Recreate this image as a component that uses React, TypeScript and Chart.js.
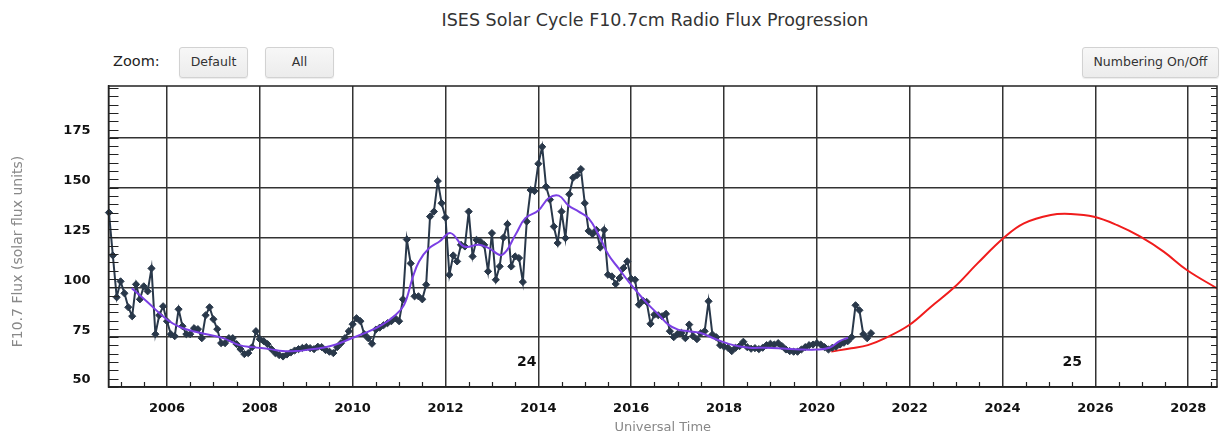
import React, { useEffect, useRef } from 'react';
import { Chart, registerables } from 'chart.js';

Chart.register(...registerables);

// ---- data ----
const OBS_START_YEAR = 2004.75; // first monthly observation (Oct 2004)
const observedFlux = [
  137.5, 116, 95, 103, 97, 90, 85.5, 101.5, 94, 100.5, 98, 109.5, 76.5, 86, 90.5, 83, 76.5, 75.5, 89, 80.5,
  76.5, 76.5, 79.5, 79, 74.5, 86, 90, 84, 79, 72, 72, 74.5, 74.5, 71.5, 69, 66.5, 67,
  70, 78, 74, 73, 71.5, 69, 67, 66, 65.3, 66.3, 67.3, 68.3, 69, 69.6, 70, 69.5, 69, 70.2, 70, 68.5,
  67.7, 67, 70, 72, 74.5, 78, 81.5, 84.5, 83, 76.5, 74.5, 71.7, 78.8, 79.8, 81, 82, 83, 84.5, 83, 94,
  124, 112, 95.5, 95.5, 94, 101.3, 135.5, 138, 153.3, 142.2, 135, 106.3, 116, 113, 121.3, 120.5, 138,
  115.5, 123.8, 123, 121.3, 108, 127.2, 103.8, 110.5, 125, 131.7, 110.5, 115.5, 114.7, 102.7, 133, 148.8,
  148.3, 162, 170.5,
  150.5, 144, 130.5, 122.2, 138, 124.7, 146.7, 155, 156.3, 159.3, 142.2, 128.3, 126.7, 128.8, 120, 128.8,
  106.3, 105.5, 101.7, 104.7, 109.7, 113, 104.3, 103.8, 91.3, 93.3, 92.7, 81.7, 86.3, 86, 85.5, 86.7, 78,
  75, 76.7, 77.2, 74.5, 81.3,
  75.5, 74, 77, 78, 93, 76.3, 75, 71, 70.2, 69.7, 68, 69.7, 70.5, 72.7, 70, 69.2, 69.5, 69, 69.7, 71, 71.7,
  71.3, 72, 70.5, 68.8, 68, 67.7, 67.7, 68.8, 70, 71, 71.3, 72, 71.3, 70, 68.8, 69.7, 70.3, 71.3, 72.2, 73,
  75, 91, 88.5, 76.5, 74.5, 77,
];

const smoothYears = [
  2005.24, 2005.56, 2005.99, 2006.28, 2006.56, 2006.85, 2007.21, 2007.56, 2007.85, 2008.21, 2008.49,
  2008.78, 2009.07, 2009.35, 2009.64, 2010.0, 2010.36, 2010.64, 2010.89, 2011.11, 2011.29, 2011.43,
  2011.65, 2011.87, 2012.11, 2012.4, 2012.72, 2012.93, 2013.22, 2013.51, 2013.72, 2014.0, 2014.22,
  2014.44, 2014.65, 2014.87, 2015.08, 2015.3, 2015.51, 2015.73, 2015.94, 2016.16, 2016.37, 2016.59,
  2016.8, 2017.01, 2017.23, 2017.48, 2017.84, 2018.2, 2018.55, 2018.91, 2019.27, 2019.63, 2019.98,
  2020.27, 2020.49, 2020.67,
];
const smoothFlux = [
  99.5, 93, 84, 80, 78, 76.5, 74.5, 71, 70, 69, 68,
  68, 68.8, 69.7, 71.3, 74.7, 78, 81.3, 85.5, 91.3, 104.7, 113,
  119.7, 123, 127.2, 120.5, 121.3, 119.7, 116.3, 126.5, 134.7, 138.5, 144.7,
  146, 141, 138, 134.7, 126.3, 116.3, 109.5, 103, 96.8, 91.3, 86.3,
  81.3, 78.8, 78, 77.2, 73.8, 71, 69.7, 69.7, 69.3, 68.8, 68.8,
  69.7, 73, 74.7,
];

const predictedYears = [
  2020.31, 2020.74, 2021.1, 2021.46, 2021.99, 2022.46, 2022.96, 2023.46, 2024.04, 2024.46,
  2025.04, 2025.47, 2025.97, 2026.47, 2026.97, 2027.47, 2027.97, 2028.62,
];
const predictedFlux = [
  67.8, 69.4, 71, 74.4, 81.1, 90.3, 100, 112, 125.1, 132.1,
  136.3, 136.8, 135.4, 131.2, 125.4, 117.9, 108.7, 99.5,
];

const xTickYears = [2006, 2008, 2010, 2012, 2014, 2016, 2018, 2020, 2022, 2024, 2026, 2028];
const yTickValues = [50, 75, 100, 125, 150, 175];
const cycleNumbers = ['24', '25'];
const cycleNumberYears = [2013.75, 2025.5];
const cycleNumberFlux = [62.6, 62.6];

const X_MIN = 2004.74;
const X_MAX = 2028.62;
const Y_MIN = 50;
const Y_MAX = 201;

const FONT = '"DejaVu Sans", "Liberation Sans", sans-serif';

const decorPlugin = {
  id: 'decor',
  afterDraw(chart: any) {
    const { ctx, chartArea: a, scales } = chart;
    const xs = scales.x;
    const ys = scales.y;
    ctx.save();
    // frame
    ctx.strokeStyle = '#222';
    ctx.lineWidth = 1.5;
    ctx.strokeRect(a.left, a.top, a.right - a.left, a.bottom - a.top);
    // minor ticks
    ctx.lineWidth = 1.2;
    ctx.beginPath();
    for (let k = 0; ; k++) {
      const v = Y_MIN + (k * 25) / 6;
      if (v > Y_MAX) break;
      const y = Math.round(ys.getPixelForValue(v)) + 0.5;
      ctx.moveTo(a.left, y);
      ctx.lineTo(a.left + 10, y);
      ctx.moveTo(a.right - 6, y);
      ctx.lineTo(a.right, y);
    }
    for (let t = 2005; t < X_MAX; t += 0.5) {
      if (t % 2 === 0) continue;
      const x = Math.round(xs.getPixelForValue(t)) + 0.5;
      ctx.moveTo(x, a.bottom);
      ctx.lineTo(x, a.bottom - 5);
    }
    ctx.stroke();
    // solar cycle numbers
    ctx.fillStyle = '#111';
    ctx.font = 'bold 14px ' + FONT;
    ctx.textAlign = 'center';
    ctx.textBaseline = 'middle';
    cycleNumbers.forEach((label, i) => {
      ctx.fillText(label, xs.getPixelForValue(cycleNumberYears[i]), ys.getPixelForValue(cycleNumberFlux[i]));
    });
    // y axis title
    ctx.fillStyle = '#888';
    ctx.font = '14px ' + FONT;
    ctx.translate(18, (a.top + a.bottom) / 2 + 15);
    ctx.rotate(-Math.PI / 2);
    ctx.fillText('F10.7 Flux (solar flux units)', 0, 0);
    ctx.restore();
  },
};

const buttonStyle: React.CSSProperties = {
  position: 'absolute',
  top: 47,
  height: 31,
  boxSizing: 'border-box',
  border: '1px solid #d2d2d2',
  borderRadius: 3,
  background: 'linear-gradient(#f7f7f7, #ececec)',
  boxShadow: '0 1px 1px rgba(0,0,0,0.08)',
  fontFamily: FONT,
  fontSize: 12.5,
  color: '#333',
  display: 'flex',
  alignItems: 'center',
  justifyContent: 'center',
  paddingBottom: 2,
};

export default function App() {
  const canvasRef = useRef<HTMLCanvasElement | null>(null);

  useEffect(() => {
    const canvas = canvasRef.current;
    if (!canvas) return;
    const observed = observedFlux.map((v, i) => ({ x: OBS_START_YEAR + i / 12, y: v }));
    const smooth = smoothYears.map((x, i) => ({ x, y: smoothFlux[i] }));
    const predicted = predictedYears.map((x, i) => ({ x, y: predictedFlux[i] }));

    const chart = new Chart(canvas, {
      type: 'line',
      data: {
        datasets: [
          {
            data: smooth,
            borderColor: '#7b3fe4',
            borderWidth: 2,
            pointRadius: 0,
            tension: 0.4,
            fill: false,
          },
          {
            data: observed,
            borderColor: '#29384a',
            backgroundColor: '#29384a',
            borderWidth: 2,
            pointStyle: 'rectRot',
            pointRadius: 3.6,
            pointBorderWidth: 1,
            pointBorderColor: '#29384a',
            pointBackgroundColor: '#29384a',
            tension: 0,
            fill: false,
            clip: false as any,
          },
          {
            data: predicted,
            borderColor: '#f01c1c',
            borderWidth: 2,
            pointRadius: 0,
            tension: 0.4,
            fill: false,
          },
        ],
      },
      options: {
        animation: false,
        responsive: false,
        maintainAspectRatio: false,
        layout: { padding: { top: 86, right: 2, left: 0, bottom: 0 } },
        plugins: {
          legend: { display: false },
          tooltip: { enabled: false },
          title: { display: false },
        },
        scales: {
          x: {
            type: 'linear',
            min: X_MIN,
            max: X_MAX,
            afterBuildTicks: (s: any) => {
              s.ticks = xTickYears.map((v) => ({ value: v }));
            },
            afterFit: (s: any) => {
              s.height = 48;
            },
            grid: { color: '#333', lineWidth: 1.5, drawTicks: false },
            border: { display: true, color: '#222', width: 1.5 },
            ticks: {
              padding: 14,
              color: '#111',
              autoSkip: false,
              maxRotation: 0,
              font: { family: FONT, size: 13, weight: 'bold' },
              callback: (v: any) => String(v),
            },
            title: {
              display: true,
              text: 'Universal Time',
              color: '#888',
              font: { family: FONT, size: 13 },
              padding: { top: 0, bottom: 0 },
            },
          },
          y: {
            type: 'linear',
            min: Y_MIN,
            max: Y_MAX,
            afterBuildTicks: (s: any) => {
              s.ticks = yTickValues.map((v) => ({ value: v }));
            },
            afterFit: (s: any) => {
              s.width = 108.5;
            },
            grid: { color: '#333', lineWidth: 1.5, drawTicks: false },
            border: { display: true, color: '#222', width: 1.5 },
            ticks: {
              padding: 18,
              labelOffset: -7,
              color: '#111',
              autoSkip: false,
              font: { family: FONT, size: 13, weight: 'bold' },
              callback: (v: any) => String(v),
            },
          },
        },
      } as any,
      plugins: [decorPlugin],
    });
    return () => chart.destroy();
  }, []);

  return (
    <div style={{ position: 'absolute', left: 0, top: 0, width: 1222, height: 435, background: '#fff', overflow: 'hidden' }}>
      <div
        style={{
          position: 'absolute',
          top: 10,
          left: 655,
          transform: 'translateX(-50%)',
          whiteSpace: 'nowrap',
          fontFamily: FONT,
          fontSize: 17.5,
          color: '#333',
        }}
      >
        ISES Solar Cycle F10.7cm Radio Flux Progression
      </div>
      <div style={{ position: 'absolute', left: 113, top: 53, fontFamily: FONT, fontSize: 14.5, color: '#222' }}>Zoom:</div>
      <div style={{ ...buttonStyle, left: 179, width: 69 }}>Default</div>
      <div style={{ ...buttonStyle, left: 265, width: 69 }}>All</div>
      <div style={{ ...buttonStyle, left: 1082, width: 137 }}>Numbering On/Off</div>
      <canvas ref={canvasRef} width={1222} height={435} style={{ position: 'absolute', left: 0, top: 0, width: 1222, height: 435 }} />
    </div>
  );
}
